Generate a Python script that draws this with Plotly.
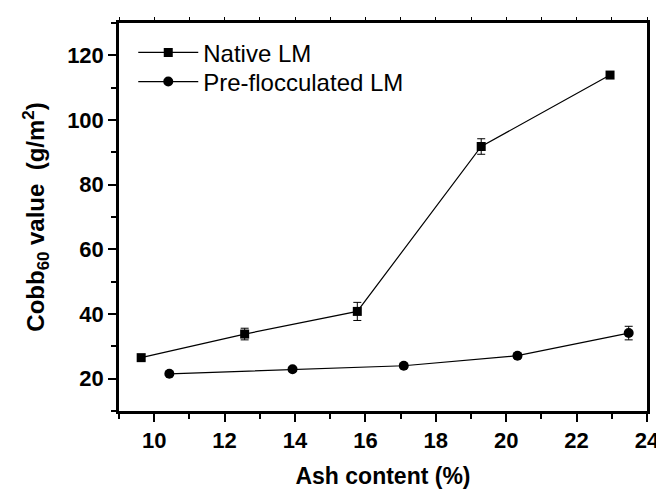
import plotly.graph_objects as go

# Data
native_x = [9.63, 12.57, 15.77, 19.29, 22.95]
native_y = [26.5, 33.8, 40.8, 91.8, 113.9]
native_err = [0.8, 1.8, 2.8, 2.4, 1.0]

preflo_x = [10.43, 13.93, 17.09, 20.32, 23.48]
preflo_y = [21.5, 22.9, 24.0, 27.1, 34.1]
preflo_err = [0.5, 0.6, 0.7, 0.8, 2.1]

x_ticks = [10, 12, 14, 16, 18, 20, 22, 24]
y_ticks = [20, 40, 60, 80, 100, 120]

FONT = "Liberation Sans, Arial, sans-serif"

fig = go.Figure()
fig.add_trace(go.Scatter(
    x=native_x, y=native_y, name="Native LM", mode="lines+markers",
    line=dict(color="black", width=1.2),
    marker=dict(symbol="square", size=9, color="black"),
    error_y=dict(type="data", array=native_err, color="black", thickness=1, width=4),
    legend="legend",
))
fig.add_trace(go.Scatter(
    x=preflo_x, y=preflo_y, name="Pre-flocculated LM", mode="lines+markers",
    line=dict(color="black", width=1.2),
    marker=dict(symbol="circle", size=10, color="black"),
    error_y=dict(type="data", array=preflo_err, color="black", thickness=1, width=4),
    legend="legend2",
))
# invisible trace to activate top axis
fig.add_trace(go.Scatter(x=[9, 24], y=[None, None], xaxis="x2", showlegend=False,
                         hoverinfo="skip"))

legend_common = dict(
    xanchor="left", yanchor="top",
    bgcolor="rgba(0,0,0,0)", borderwidth=0,
    font=dict(family=FONT, size=24, color="black"),
    itemwidth=60,
)

fig.update_layout(
    width=664, height=489,
    margin=dict(l=111, r=15, t=13, b=82),
    paper_bgcolor="white", plot_bgcolor="white",
    font=dict(family=FONT, color="black"),
    showlegend=True,
    legend=dict(x=0.027, y=0.981, **legend_common),
    legend2=dict(x=0.027, y=0.906, **legend_common),
    xaxis=dict(
        range=[9, 24], tickvals=x_ticks, ticktext=[str(v) for v in x_ticks],
        ticks="outside", ticklen=8, tickwidth=2, tickcolor="black",
        minor=dict(dtick=1, tick0=9, ticks="outside", ticklen=5, tickwidth=2, tickcolor="black"),
        showline=True, linewidth=2.5, linecolor="black", mirror=False,
        showgrid=False, zeroline=False,
        tickfont=dict(family=FONT, size=22, color="black", weight="bold"),
        title=dict(text="<b>Ash content (%)</b>", font=dict(family=FONT, size=23, color="black"),
                   standoff=16),
    ),
    xaxis2=dict(
        overlaying="x", side="top", range=[9, 24], tickvals=list(range(9, 25)),
        showticklabels=False, ticks="outside", ticklen=3, tickwidth=1, tickcolor="black",
        showline=True, linewidth=2.5, linecolor="black", showgrid=False, zeroline=False,
    ),
    yaxis=dict(
        range=[10, 130], tickvals=y_ticks, ticktext=[str(v) for v in y_ticks],
        ticks="outside", ticklen=8, tickwidth=2, tickcolor="black",
        minor=dict(dtick=10, tick0=10, ticks="outside", ticklen=5, tickwidth=2, tickcolor="black"),
        showline=True, linewidth=2.5, linecolor="black", mirror=True,
        showgrid=False, zeroline=False,
        tickfont=dict(family=FONT, size=22, color="black", weight="bold"),
        title=dict(text="<b>Cobb<sub>60</sub> value  (g/m<sup>2</sup>)</b>",
                   font=dict(family=FONT, size=24, color="black"), standoff=16),
    ),
)

fig.write_html("out.html")
